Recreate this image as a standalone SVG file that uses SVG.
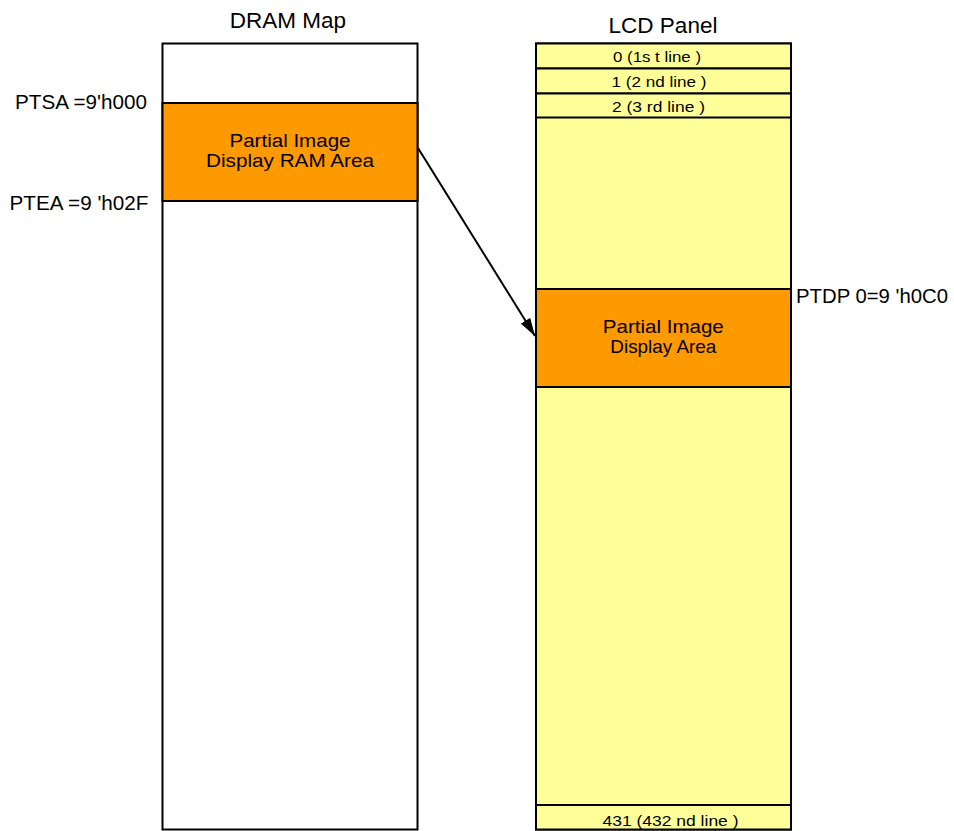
<svg xmlns="http://www.w3.org/2000/svg" width="954" height="831" viewBox="0 0 954 831">
<style>
text{font-family:"Liberation Sans",Arial,sans-serif;fill:#000}
.t{font-size:22.5px;text-anchor:middle}
.m{font-size:19px;text-anchor:middle}
.s{font-size:15px;text-anchor:middle}
.l{font-size:20px}
.box{stroke:#000;stroke-width:2}
.w{fill:#fff}
.y{fill:#FFFF99}
.o{fill:#FF9900}
.ln{stroke:#000;stroke-width:2;fill:none}
</style>
<defs>
<marker id="ah" markerWidth="18" markerHeight="11" refX="18" refY="5.5" orient="auto" markerUnits="userSpaceOnUse" viewBox="0 0 18 11">
<path d="M0,0 L18,5.5 L0,11 Z" fill="#000"/>
</marker>
</defs>
<rect width="954" height="831" fill="#fff"/>
<g id="dram">
<text class="t" x="288" y="28.3">DRAM Map</text>
<rect class="box w" x="162.5" y="43.5" width="255" height="786"/>
</g>
<g id="dram-area">
<rect class="box o" x="162.5" y="103" width="255" height="98"/>
<text class="m" x="290" y="147.3" textLength="121" lengthAdjust="spacingAndGlyphs">Partial Image</text>
<text class="m" x="290" y="166.7" textLength="168" lengthAdjust="spacingAndGlyphs">Display RAM Area</text>
</g>
<g id="ptsa"><text class="l" x="15" y="109.3" textLength="132" lengthAdjust="spacingAndGlyphs">PTSA =9'h000</text></g>
<g id="ptea"><text class="l" x="9.5" y="210" textLength="139" lengthAdjust="spacingAndGlyphs">PTEA =9 'h02F</text></g>
<g id="lcd">
<text class="t" x="663" y="33.3">LCD Panel</text>
<rect class="box y" x="536" y="43.5" width="255" height="786"/>
</g>
<g id="line0">
<rect class="box y" x="536" y="43.5" width="255" height="25"/>
<text class="s" x="657" y="62" textLength="88" lengthAdjust="spacingAndGlyphs">0 (1s t line )</text>
</g>
<g id="line1">
<rect class="box y" x="536" y="68.5" width="255" height="25"/>
<text class="s" x="659" y="87" textLength="95" lengthAdjust="spacingAndGlyphs">1 (2 nd line )</text>
</g>
<g id="line2">
<rect class="box y" x="536" y="93.5" width="255" height="24"/>
<text class="s" x="658.5" y="112" textLength="93" lengthAdjust="spacingAndGlyphs">2 (3 rd line )</text>
</g>
<g id="lcd-area">
<rect class="box o" x="536" y="289" width="255" height="98"/>
<text class="m" x="663.3" y="333.3" textLength="121" lengthAdjust="spacingAndGlyphs">Partial Image</text>
<text class="m" x="663.3" y="353.3" textLength="106" lengthAdjust="spacingAndGlyphs">Display Area</text>
</g>
<g id="ptdp"><text class="l" x="796" y="303.3" textLength="152" lengthAdjust="spacingAndGlyphs">PTDP 0=9 'h0C0</text></g>
<g id="line431">
<rect class="box y" x="536" y="805" width="255" height="24.5"/>
<text class="s" x="670.5" y="826" textLength="136" lengthAdjust="spacingAndGlyphs">431 (432 nd line )</text>
</g>
<g id="connectors">
<line class="ln" x1="418" y1="148" x2="535" y2="336" marker-end="url(#ah)"/>
</g>
</svg>
